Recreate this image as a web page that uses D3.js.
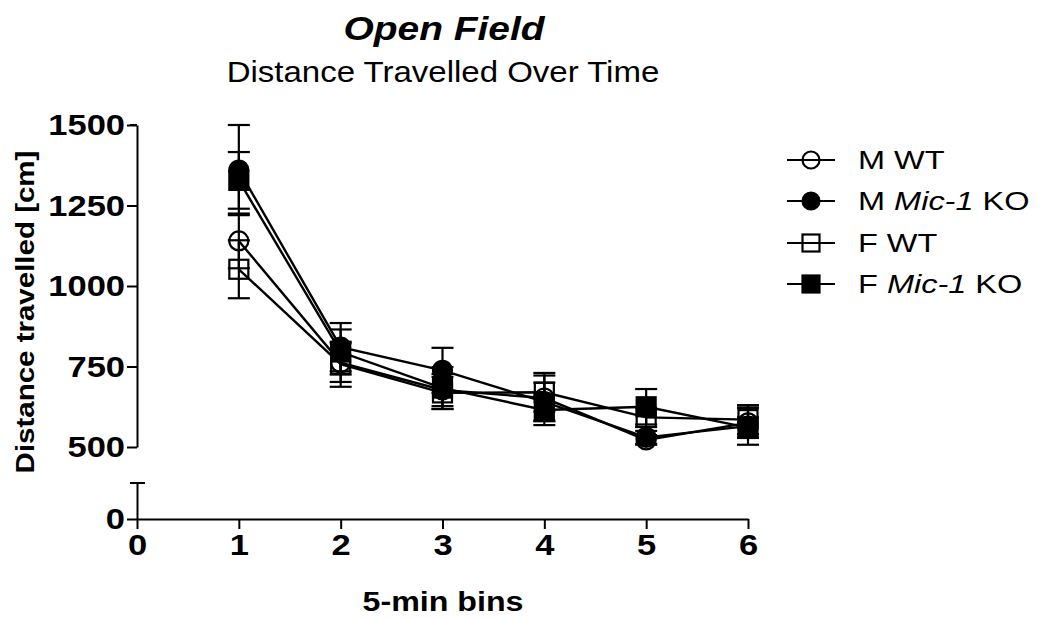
<!DOCTYPE html>
<html>
<head>
<meta charset="utf-8">
<script src="https://cdn.jsdelivr.net/npm/d3@7"></script>
<style>
  body { margin: 0; background: #fff; }
  svg text { font-family: "Liberation Sans", Arial, sans-serif; fill: #000; }
</style>
</head>
<body>
<div id="chart"></div>
<script>
// 5-min bins, mean distance travelled (cm) and SEM
var bins = [1, 2, 3, 4, 5, 6];
var xTicks = [0, 1, 2, 3, 4, 5, 6];
var yTicksUpper = [500, 750, 1000, 1250, 1500];
var yTicksLower = [0];

var mWT = [1140, 762, 677, 652, 522, 575];
var mWTErr = [85, 60, 50, 70, 15, 45];
var mKO = [1360, 810, 738, 640, 530, 565];
var mKOErr = [140, 75, 70, 60, 20, 58];
var fWT = [1052, 757, 668, 670, 592, 585];
var fWTErr = [90, 70, 50, 60, 30, 45];
var fKO = [1328, 795, 683, 615, 625, 560];
var fKOErr = [88, 70, 65, 47, 55, 32];

var seriesNames = ["M WT", "M Mic-1 KO", "F WT", "F Mic-1 KO"];

var series = [
    { name: seriesNames[0], values: mWT, err: mWTErr, shape: "circle", filled: false },
    { name: seriesNames[1], values: mKO, err: mKOErr, shape: "circle", filled: true },
    { name: seriesNames[2], values: fWT, err: fWTErr, shape: "square", filled: false },
    { name: seriesNames[3], values: fKO, err: fKOErr, shape: "square", filled: true }
];

var width = 1047, height = 618;

var svg = d3.select('#chart')
    .append('svg')
    .attr('width', width)
    .attr('height', height);

var xScale = d3.scaleLinear().domain([0, 6]).range([137, 748]);
// broken y axis: upper segment 500-1500, small lower segment from 0
var yScale = d3.scaleLinear().domain([500, 1500]).range([447, 125]);
var yLow = d3.scaleLinear().domain([0, 112]).range([519, 483]);

// stretch text horizontally around its anchor point
function stretchX(sel, k) {
    sel.each(function () {
        var t = d3.select(this),
            x = +t.attr('x') || 0,
            y = +t.attr('y') || 0;
        t.attr('transform', `translate(${x},${y}) scale(${k},1) translate(${-x},${-y})`);
    });
}

// axes
var fmt = d3.format('d');
var yAxis = d3.axisLeft(yScale).tickValues(yTicksUpper).tickFormat(fmt)
    .tickSize(10).tickPadding(2).tickSizeOuter(0);
var yAxisLow = d3.axisLeft(yLow).tickValues(yTicksLower).tickFormat(fmt)
    .tickSize(10).tickPadding(2).tickSizeOuter(0);
var xAxis = d3.axisBottom(xScale).tickValues(xTicks).tickFormat(fmt)
    .tickSize(10).tickPadding(5).tickSizeOuter(0);

function styleAxis(g) {
    g.select('.domain').attr('stroke', '#000').attr('stroke-width', 2);
    g.selectAll('.tick line').attr('stroke', '#000').attr('stroke-width', 2);
    g.selectAll('.tick text')
        .style('font-size', '30px')
        .style('font-weight', 'bold')
        .attr('fill', '#000')
        .call(stretchX, 1.15);
}

svg.append('g')
    .attr('transform', 'translate(137,0)')
    .call(yAxis)
    .call(styleAxis);

svg.append('g')
    .attr('transform', 'translate(137,0)')
    .call(yAxisLow)
    .call(styleAxis);

svg.append('g')
    .attr('transform', 'translate(0,519)')
    .call(xAxis)
    .call(styleAxis);

// segment end caps on the axis break
svg.append('line')
    .attr('x1', 137).attr('x2', 130)
    .attr('y1', yScale(1500)).attr('y2', yScale(1500))
    .attr('stroke', '#000').attr('stroke-width', 2);
svg.append('line')
    .attr('x1', 130).attr('x2', 145)
    .attr('y1', yLow(112)).attr('y2', yLow(112))
    .attr('stroke', '#000').attr('stroke-width', 2);

// titles
var title = svg.append('text')
    .attr('x', 444).attr('y', 40)
    .attr('text-anchor', 'middle')
    .style('font-size', '33px')
    .style('font-weight', 'bold')
    .style('font-style', 'italic')
    .text('Open Field');
stretchX(title, 1.18);

var subtitle = svg.append('text')
    .attr('x', 443).attr('y', 82)
    .attr('text-anchor', 'middle')
    .style('font-size', '30px')
    .text('Distance Travelled Over Time');
stretchX(subtitle, 1.1);

var xLabel = svg.append('text')
    .attr('x', 443).attr('y', 611)
    .attr('text-anchor', 'middle')
    .style('font-size', '28px')
    .style('font-weight', 'bold')
    .text('5-min bins');
stretchX(xLabel, 1.15);

svg.append('text')
    .attr('transform', 'translate(34,312) scale(1,1.18) rotate(-90)')
    .attr('text-anchor', 'middle')
    .style('font-size', '25px')
    .style('font-weight', 'bold')
    .text('Distance travelled [cm]');

// lines
var line = d3.line()
    .x(function (d, i) { return xScale(bins[i]); })
    .y(function (d) { return yScale(d); });

svg.selectAll('.series-line').data(series)
    .enter()
    .append('path')
    .attr('class', 'series-line')
    .attr('d', function (s) { return line(s.values); })
    .attr('fill', 'none')
    .attr('stroke', '#000')
    .attr('stroke-width', 2.4);

// error bars
var capHalf = 11;
series.forEach(function (s) {
    var g = svg.append('g').attr('class', 'err');
    s.values.forEach(function (v, i) {
        var x = xScale(bins[i]),
            yTop = yScale(v + s.err[i]),
            yBot = yScale(v - s.err[i]);
        g.append('line')
            .attr('x1', x).attr('x2', x).attr('y1', yTop).attr('y2', yBot)
            .attr('stroke', '#000').attr('stroke-width', 2.2);
        [yTop, yBot].forEach(function (yc) {
            g.append('line')
                .attr('x1', x - capHalf).attr('x2', x + capHalf)
                .attr('y1', yc).attr('y2', yc)
                .attr('stroke', '#000').attr('stroke-width', 2.2);
        });
    });
});

// markers
function drawMarker(g, shape, filled, cx, cy, size) {
    if (shape === 'circle') {
        g.append('circle')
            .attr('cx', cx).attr('cy', cy).attr('r', size / 2)
            .attr('fill', filled ? '#000' : 'none')
            .attr('stroke', '#000').attr('stroke-width', 2.2);
    } else {
        g.append('rect')
            .attr('x', cx - size / 2).attr('y', cy - size / 2)
            .attr('width', size).attr('height', size)
            .attr('fill', filled ? '#000' : 'none')
            .attr('stroke', '#000').attr('stroke-width', 2.2);
    }
}

series.forEach(function (s) {
    var g = svg.append('g').attr('class', 'markers');
    s.values.forEach(function (v, i) {
        drawMarker(g, s.shape, s.filled, xScale(bins[i]), yScale(v), 19);
    });
});

// legend
var legendY = [160, 201, 243, 284];
series.forEach(function (s, i) {
    var g = svg.append('g').attr('class', 'legend');
    var y = legendY[i];
    g.append('line')
        .attr('x1', 787).attr('x2', 835).attr('y1', y).attr('y2', y)
        .attr('stroke', '#000').attr('stroke-width', 2);
    drawMarker(g, s.shape, s.filled, 811, y, 17);
    var t = g.append('text')
        .attr('x', 858).attr('y', y + 9)
        .style('font-size', '26px');
    var parts = s.name.split('Mic-1');
    t.append('tspan').text(parts[0]);
    if (parts.length > 1) {
        t.append('tspan').style('font-style', 'italic').text('Mic-1');
        t.append('tspan').text(parts[1]);
    }
    stretchX(t, 1.25);
});
</script>
</body>
</html>
